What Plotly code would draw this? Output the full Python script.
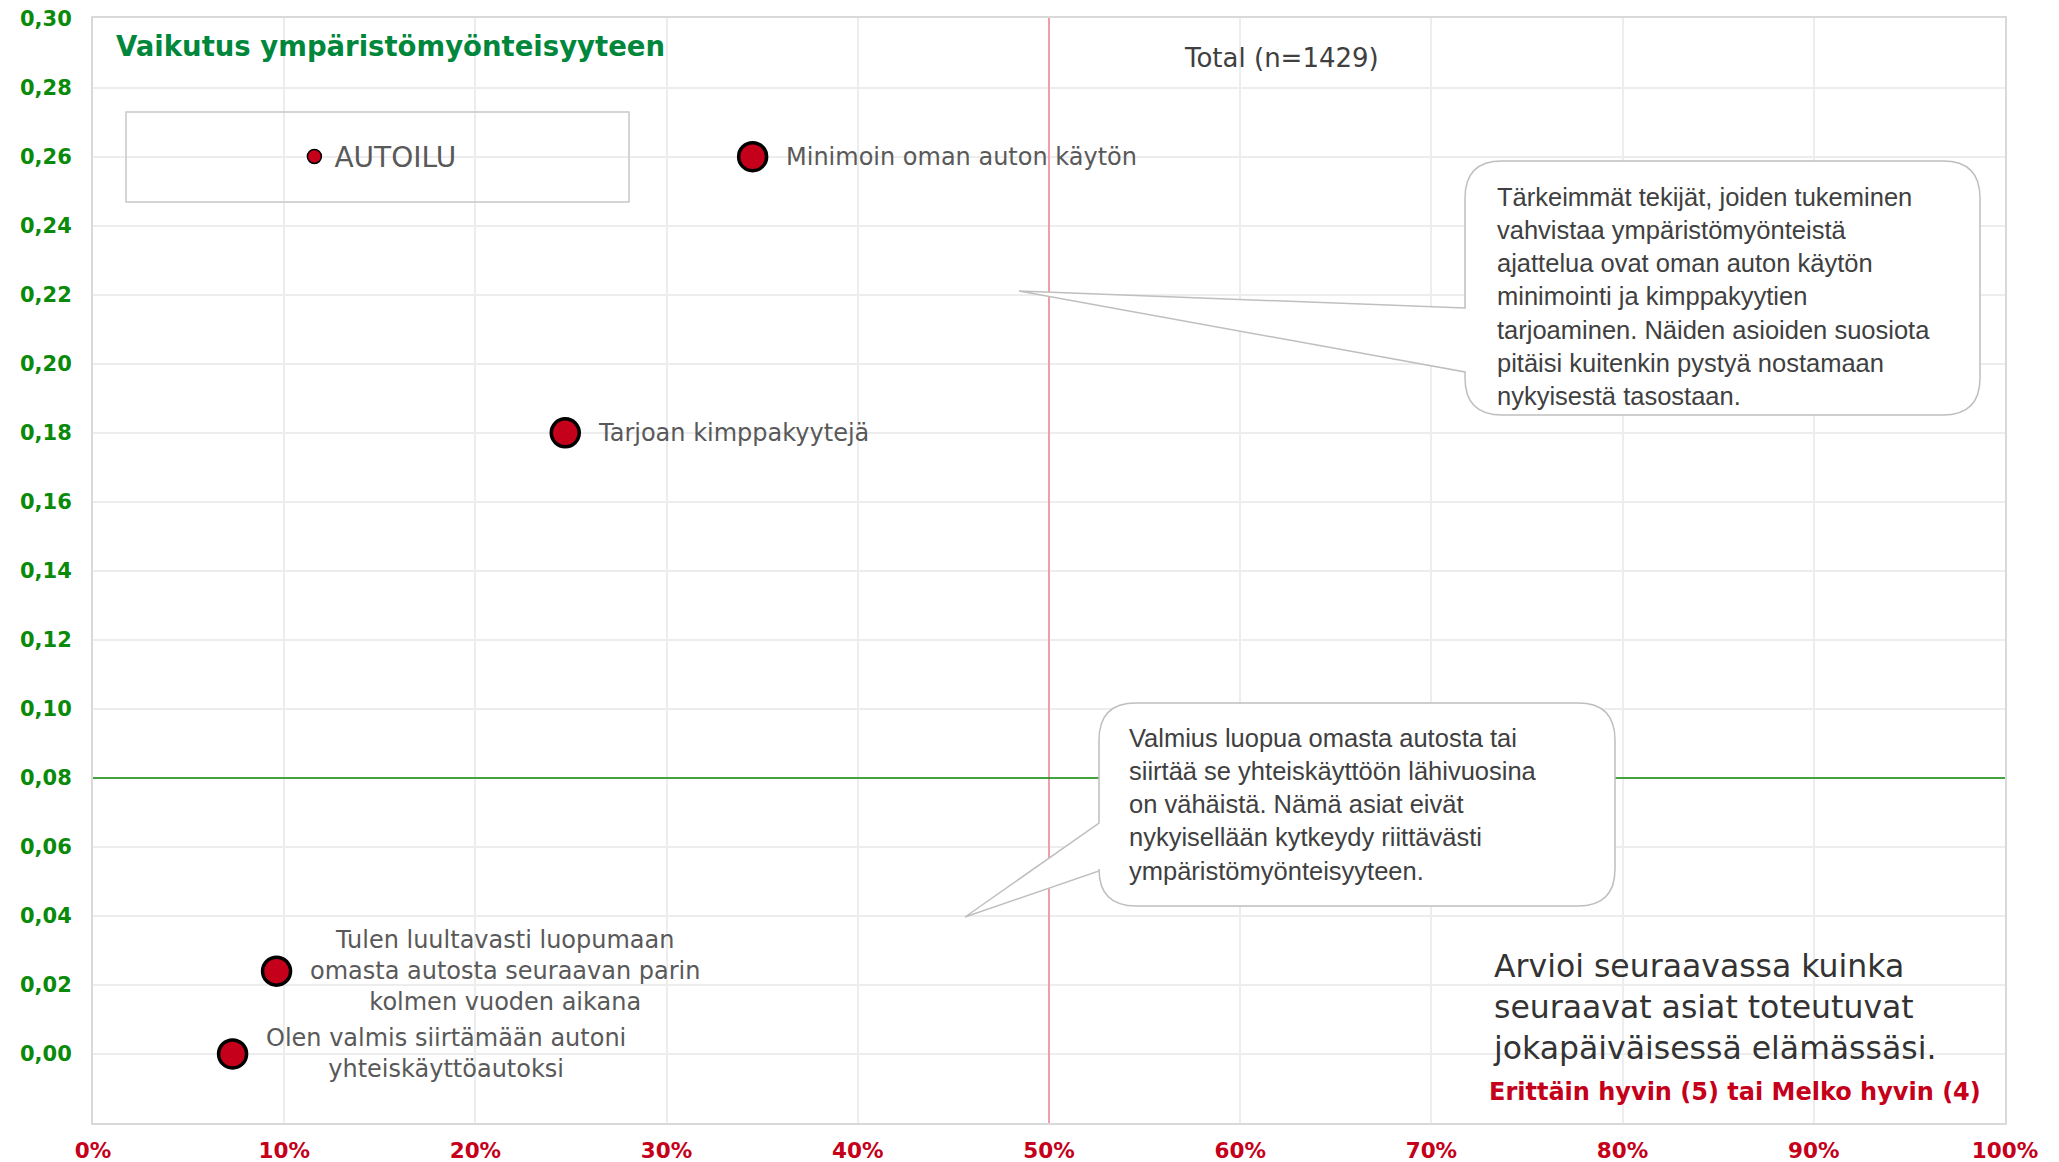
import plotly.graph_objects as go

# ---------------- data ----------------
categories = [
    "Minimoin oman auton käytön",
    "Tarjoan kimppakyytejä",
    "Tulen luultavasti luopumaan<br>omasta autosta seuraavan parin<br>kolmen vuoden aikana",
    "Olen valmis siirtämään autoni<br>yhteiskäyttöautoksi",
]
share_good = [0.345, 0.247, 0.096, 0.073]   # Erittäin hyvin (5) tai Melko hyvin (4)
impact = [0.260, 0.180, 0.024, 0.000]       # Vaikutus ympäristömyönteisyyteen

x_ticks = [0.0, 0.1, 0.2, 0.3, 0.4, 0.5, 0.6, 0.7, 0.8, 0.9, 1.0]
x_tick_labels = ["0%", "10%", "20%", "30%", "40%", "50%", "60%", "70%", "80%", "90%", "100%"]
y_ticks = [0.00, 0.02, 0.04, 0.06, 0.08, 0.10, 0.12, 0.14, 0.16, 0.18, 0.20, 0.22, 0.24, 0.26, 0.28, 0.30]
y_tick_labels = ["0,00", "0,02", "0,04", "0,06", "0,08", "0,10", "0,12", "0,14", "0,16", "0,18",
                 "0,20", "0,22", "0,24", "0,26", "0,28", "0,30"]

X_REF = 0.50   # vertical reference line
Y_REF = 0.08   # horizontal reference line
legend_name = "AUTOILU"

# ---------------- geometry / styles ----------------
OFF = 8                      # page body margin
W, H = 2059 - OFF, 1162 - OFF
L, R, T, B = 93 - OFF, 54, 18 - OFF, 39
PW, PH = W - L - R, H - T - B
X_RANGE = [0.0, 1.0]
Y_RANGE = [-0.02, 0.3002]

RED = "#C5001A"
GREEN_TICK = "#0A8A0A"
GREEN_TITLE = "#00873C"
GRAY_TXT = "#595959"
DARK_TXT = "#404040"


# helpers take page-pixel positions
def dx(X):
    return X_RANGE[0] + (X - OFF - L) / PW * (X_RANGE[1] - X_RANGE[0])


def dy(Y):
    return Y_RANGE[1] - (Y - OFF - T) / PH * (Y_RANGE[1] - Y_RANGE[0])


def px(X):
    return (X - OFF - L) / PW


def py(Y):
    return (H - B - (Y - OFF)) / PH


def callout_path(x0, y0, x1, y1, r, b1, b2, tipx, tipy):
    pts = [
        f"M {dx(x0)},{dy(b1)}",
        f"L {dx(x0)},{dy(y0 + r)}",
        f"Q {dx(x0)},{dy(y0)} {dx(x0 + r)},{dy(y0)}",
        f"L {dx(x1 - r)},{dy(y0)}",
        f"Q {dx(x1)},{dy(y0)} {dx(x1)},{dy(y0 + r)}",
        f"L {dx(x1)},{dy(y1 - r)}",
        f"Q {dx(x1)},{dy(y1)} {dx(x1 - r)},{dy(y1)}",
        f"L {dx(x0 + r)},{dy(y1)}",
        f"Q {dx(x0)},{dy(y1)} {dx(x0)},{dy(y1 - r)}",
        f"L {dx(x0)},{dy(b2)}",
        f"L {dx(tipx)},{dy(tipy)}",
        "Z",
    ]
    return " ".join(pts)


fig = go.Figure()

# reference lines
fig.add_trace(go.Scatter(
    x=[X_REF, X_REF], y=Y_RANGE, mode="lines", showlegend=False, hoverinfo="skip",
    line=dict(color="#F2808E", width=1.5),
))
fig.add_trace(go.Scatter(
    x=X_RANGE, y=[Y_REF, Y_REF], mode="lines", showlegend=False, hoverinfo="skip",
    line=dict(color="#0A8A0A", width=1.5),
))

fig.add_trace(go.Scatter(
    x=share_good, y=impact, mode="markers", showlegend=False,
    marker=dict(size=28, color=RED, line=dict(color="black", width=3.5)),
    hoverinfo="skip",
))
# legend-only entry
fig.add_trace(go.Scatter(
    x=[None], y=[None], mode="markers", name=legend_name, showlegend=True,
    marker=dict(size=14, color=RED, line=dict(color="black", width=1.5)),
))

# point labels
for xv, yv, lab in zip(share_good, impact, categories):
    fig.add_annotation(
        x=xv, y=yv, xref="x", yref="y", text=lab, showarrow=False,
        xanchor="left", yanchor="middle", align="center", xshift=31,
        font=dict(family="DejaVu Sans", size=24, color=GRAY_TXT),
    )

shapes = [
    # legend box
    dict(type="rect", xref="x", yref="y", x0=dx(126), x1=dx(629), y0=dy(112), y1=dy(202),
         line=dict(color="#C8C8C8", width=1.5), fillcolor="rgba(0,0,0,0)"),
    # callouts
    dict(type="path", xref="x", yref="y",
         path=callout_path(1465, 161, 1980, 415, 37, 308, 372, 1019, 291),
         line=dict(color="#BFBFBF", width=1.5), fillcolor="white"),
    dict(type="path", xref="x", yref="y",
         path=callout_path(1099, 703, 1615, 906, 37, 823, 871, 965, 917),
         line=dict(color="#BFBFBF", width=1.5), fillcolor="white"),
]

texts = [
    dict(text="<b>Vaikutus ympäristömyönteisyyteen</b>", X=114, Y=46,
         font=dict(family="DejaVu Sans", size=27.5, color=GREEN_TITLE)),
    dict(text="Total (n=1429)", X=1281, Y=58, xanchor="center",
         font=dict(family="DejaVu Sans", size=26, color=DARK_TXT)),
    dict(text="Tärkeimmät tekijät, joiden tukeminen<br>vahvistaa ympäristömyönteistä<br>"
              "ajattelua ovat oman auton käytön<br>minimointi ja kimppakyytien<br>"
              "tarjoaminen. Näiden asioiden suosiota<br>pitäisi kuitenkin pystyä nostamaan<br>"
              "nykyisestä tasostaan.", X=1495, Y=296,
         font=dict(family="Liberation Sans", size=25.5, color=DARK_TXT)),
    dict(text="Valmius luopua omasta autosta tai<br>siirtää se yhteiskäyttöön lähivuosina<br>"
              "on vähäistä. Nämä asiat eivät<br>nykyisellään kytkeydy riittävästi<br>"
              "ympäristömyönteisyyteen.", X=1127, Y=804,
         font=dict(family="Liberation Sans", size=25.5, color=DARK_TXT)),
    dict(text="Arvioi seuraavassa kuinka<br>seuraavat asiat toteutuvat<br>jokapäiväisessä elämässäsi.",
         X=1491, Y=1007,
         font=dict(family="DejaVu Sans", size=31.5, color="#333333")),
    dict(text="<b>Erittäin hyvin (5) tai Melko hyvin (4)</b>", X=1487, Y=1092,
         font=dict(family="DejaVu Sans", size=24, color=RED)),
]
for t in texts:
    fig.add_annotation(
        x=px(t["X"]), y=py(t["Y"]), xref="paper", yref="paper", text=t["text"],
        showarrow=False, xanchor=t.get("xanchor", "left"), yanchor="middle", align="left",
        font=t["font"],
    )

fig.update_layout(
    width=W, height=H,
    margin=dict(l=L, r=R, t=T, b=B, autoexpand=False),
    paper_bgcolor="white", plot_bgcolor="white",
    shapes=shapes,
    showlegend=True,
    legend=dict(x=0.149, y=(0.26 - Y_RANGE[0]) / (Y_RANGE[1] - Y_RANGE[0]),
                xanchor="center", yanchor="middle", bgcolor="rgba(0,0,0,0)",
                font=dict(family="DejaVu Sans", size=28, color=GRAY_TXT)),
    xaxis=dict(range=X_RANGE, tickvals=x_ticks, ticktext=x_tick_labels,
               showgrid=True, gridcolor="#EDEDED", gridwidth=1.5, zeroline=False,
               showline=True, linecolor="#D9D9D9", linewidth=2, mirror=True,
               ticks="outside", ticklen=7, tickcolor="rgba(0,0,0,0)",
               ticklabeloverflow="allow",
               tickfont=dict(family="DejaVu Sans", size=21.5, color=RED, weight="bold"),
               fixedrange=True),
    yaxis=dict(range=Y_RANGE, tickvals=y_ticks, ticktext=y_tick_labels,
               showgrid=True, gridcolor="#EDEDED", gridwidth=1.5, zeroline=False,
               showline=True, linecolor="#D9D9D9", linewidth=2, mirror=True,
               ticks="outside", ticklen=15, tickcolor="rgba(0,0,0,0)",
               ticklabeloverflow="allow",
               tickfont=dict(family="DejaVu Sans", size=21, color=GREEN_TICK, weight="bold"),
               fixedrange=True),
)

fig.write_html("out.html")
